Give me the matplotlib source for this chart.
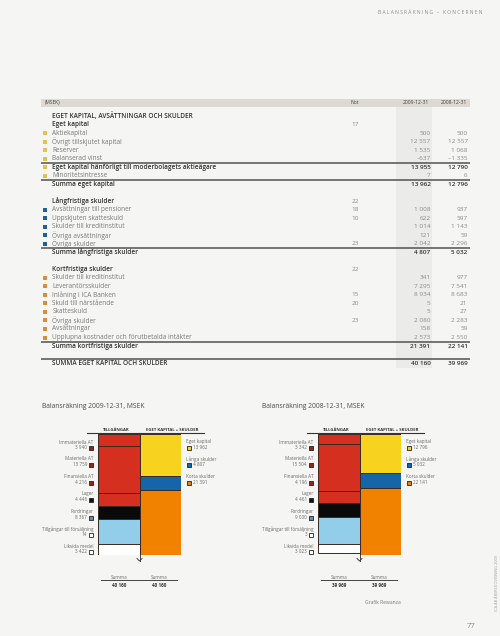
import matplotlib
matplotlib.use("Agg")
import matplotlib.pyplot as plt
from matplotlib.patches import Rectangle

plt.rcParams['font.family'] = ['Open Sans', 'DejaVu Sans']

# ---------------- DATA ----------------
row_labels = [
    "EGET KAPITAL, AVSÄTTNINGAR OCH SKULDER", "Eget kapital", "Aktiekapital",
    "Övrigt tillskjutet kapital", "Reserver", "Balanserad vinst",
    "Eget kapital hänförligt till moderbolagets aktieägare", "Minoritetsintresse",
    "Summa eget kapital", "",
    "Långfristiga skulder", "Avsättningar till pensioner", "Uppskjuten skatteskuld",
    "Skulder till kreditinstitut", "Övriga avsättningar", "Övriga skulder",
    "Summa långfristiga skulder", "",
    "Kortfristiga skulder", "Skulder till kreditinstitut", "Leverantörsskulder",
    "Inlåning i ICA Banken", "Skuld till närstående", "Skatteskuld", "Övriga skulder",
    "Avsättningar", "Upplupna kostnader och förutbetalda intäkter",
    "Summa kortfristiga skulder", "",
    "SUMMA EGET KAPITAL OCH SKULDER",
]
row_notes = ["", "17", "", "", "", "", "", "", "", "",
             "22", "18", "10", "", "", "23", "", "",
             "22", "", "", "15", "20", "", "23", "", "", "", "", ""]
row_2009 = [None, None, 500, 12557, 1535, -637, 13955, 7, 13962, None,
            None, 1008, 622, 1014, 121, 2042, 4807, None,
            None, 341, 7295, 8934, 5, 5, 2080, 158, 2573, 21391, None, 40160]
row_2008 = [None, None, 500, 12557, 1068, -1335, 12790, 6, 12796, None,
            None, 937, 597, 1143, 59, 2296, 5032, None,
            None, 977, 7541, 8683, 21, 27, 2283, 59, 2550, 22141, None, 39969]
# row kind: h=heading, b=bold subheading, i=item, bi=bold item, s=sum
row_kind = ["h", "b", "i", "i", "i", "i", "bi", "i", "s", "",
            "b", "i", "i", "i", "i", "i", "s", "",
            "b", "i", "i", "i", "i", "i", "i", "i", "i", "s", "", "h"]
row_group = ["", "", "eq", "eq", "eq", "eq", "eq", "eq", "", "",
             "", "lt", "lt", "lt", "lt", "lt", "", "",
             "", "st", "st", "st", "st", "st", "st", "st", "st", "", "", ""]

asset_labels = ["Immateriella AT", "Materiella AT", "Finansiella AT", "Lager",
                "Fordringar", "Tillgångar till försäljning", "Likvida medel"]
assets_2009 = [3940, 15759, 4216, 4446, 8367, 14, 3422]
assets_2008 = [3342, 15504, 4196, 4461, 9000, 3, 3023]
liab_labels = ["Eget kapital", "Långa skulder", "Korta skulder"]
liab_2009 = [13962, 4807, 21391]
liab_2008 = [12796, 5032, 22141]
total_2009 = 40160
total_2008 = 39969

# ---------------- STYLE ----------------
BG = "#f5f5f3"
group_col = {"eq": "#e2c24a", "lt": "#1f5f96", "st": "#de8a38"}
asset_bar_col = ["#d52f1f", "#d52f1f", "#d52f1f", "#0a0a0a", "#92cdea", "#ffffff", "#ffffff"]
asset_mark_col = ["#8a2a1c", "#8a2a1c", "#8a2a1c", "#111111", "#6d8da6", "#ffffff", "#ffffff"]
liab_bar_col = ["#f7d21e", "#1466a8", "#f08200"]
liab_mark_col = ["#f7d21e", "#1466a8", "#d9821f"]
EDGE = "#3a2a22"
FS = 4.7     # table text
FN = 4.6     # table numbers
FC = 3.3     # chart labels


def fmt(v):
    s = f"{abs(v):,}".replace(",", " ")
    return ("–" + s) if v < 0 else s


fig = plt.figure(figsize=(5.0, 6.36), dpi=100, facecolor=BG)
ax = fig.add_axes([0, 0, 1, 1])
ax.set_xlim(0, 500)
ax.set_ylim(636, 0)
ax.axis("off")
ax.set_facecolor(BG)

# page header
ax.text(483, 12, "B A L A N S R Ä K N I N G   –   K O N C E R N E N", ha="right", va="center",
        fontsize=3.5, color="#8a8a8a")

# table header band
ax.add_patch(Rectangle((41, 98.5), 429, 8.5, color="#ddd9d2", lw=0))
ax.text(45, 102.8, "(MSEK)", fontsize=3.4, color="#444", va="center")
ax.text(355, 102.8, "Not", fontsize=3.6, color="#444", va="center", ha="center")
ax.text(429, 102.8, "2009-12-31", fontsize=3.6, color="#444", va="center", ha="right")
ax.text(467, 102.8, "2008-12-31", fontsize=3.6, color="#444", va="center", ha="right")
# shaded 2009 column
ax.add_patch(Rectangle((396, 107), 36, 261, color="#ebebe9", lw=0))

y0, step = 116.0, 8.52
for i, lab in enumerate(row_labels):
    y = y0 + i * step
    k = row_kind[i]
    if not lab:
        continue
    bold = k in ("h", "b", "bi", "s")
    col = "#333333" if bold else "#7a7a7a"
    ax.text(52.5, y, lab, fontsize=FS, va="center", ha="left", color=col,
            fontweight="semibold" if bold else "normal")
    if row_group[i]:
        ax.add_patch(Rectangle((43.2, y - 2.0), 4.0, 4.0, color=group_col[row_group[i]], lw=0))
    if row_notes[i]:
        ax.text(355, y, row_notes[i], fontsize=FN, va="center", ha="center", color="#8a8a8a")
    if row_2009[i] is not None:
        vb = k in ("bi", "s", "h")
        vc = "#333333" if vb else "#8a8a8a"
        ax.text(430.5, y, fmt(row_2009[i]), fontsize=FN, va="center", ha="right", color=vc,
                fontweight="semibold" if vb else "normal")
        ax.text(467.5, y, fmt(row_2008[i]), fontsize=FN, va="center", ha="right", color=vc,
                fontweight="semibold" if vb else "normal")

for yl in (y0 + 5.5 * step, y0 + 7.5 * step, y0 + 15.5 * step, y0 + 26.5 * step, y0 + 28.5 * step):
    ax.plot([41, 470], [yl, yl], color="#5e5e5e", lw=1.2, solid_capstyle="butt")


def draw_chart(x0, title, assets, liab, total, tot_a, tot_l):
    # x0: left edge of the assets bar in pixels
    bar_w = 41.5
    top, bot = 434, 554.5
    ax.text(x0 - 56, 406, title, fontsize=4.9, color="#4a4a4a", va="center")
    ax.text(x0 + bar_w / 2 - 2, 430, "TILLGÅNGAR", fontsize=3.1, fontweight="bold",
            color="#333", ha="center", va="center")
    ax.text(x0 + bar_w * 1.5 + 12, 430, "EGET KAPITAL + SKULDER", fontsize=3.1, fontweight="bold",
            color="#333", ha="center", va="center")
    ax.plot([x0 - 11, x0 + 2 * bar_w + 23], [433, 433], color="#333", lw=0.8)

    bx = fig.add_axes([x0 / 500, 1 - bot / 636, 2 * bar_w / 500, (bot - top) / 636])
    bx.set_xlim(-0.5, 1.5)
    bx.set_ylim(total, 0)
    bx.axis("off")
    cum = 0
    for v, c in zip(assets, asset_bar_col):
        bx.bar(0, v, bottom=cum, width=1.0, color=c, edgecolor=EDGE, linewidth=0.7)
        cum += v
    cum = 0
    for v, c in zip(liab, liab_bar_col):
        bx.bar(1, v, bottom=cum, width=1.0, color=c, edgecolor=EDGE, linewidth=0.7)
        cum += v

    # left legend labels
    ly = [442, 459, 477, 494, 512, 529, 546]
    for lab, v, mc, y in zip(asset_labels, assets, asset_mark_col, ly):
        ax.text(x0 - 4.5, y, lab, fontsize=FC, color="#6a6a6a", ha="right", va="center")
        ax.text(x0 - 11, y + 5.5, fmt(v), fontsize=FC, color="#6a6a6a", ha="right", va="center")
        ax.add_patch(Rectangle((x0 - 9.5, y + 3.6), 4, 4, facecolor=mc, edgecolor="#222", lw=0.6))
    # right legend labels
    ry = [442, 459, 477]
    rx = x0 + 2 * bar_w + 5
    for lab, v, mc, y in zip(liab_labels, liab, liab_mark_col, ry):
        ax.text(rx, y, lab, fontsize=FC, color="#6a6a6a", ha="left", va="center")
        ax.add_patch(Rectangle((rx + 0.5, y + 3.6), 4, 4, facecolor=mc, edgecolor="#222", lw=0.6))
        ax.text(rx + 7, y + 5.5, fmt(v), fontsize=FC, color="#6a6a6a", ha="left", va="center")

    # arrow
    ax.plot([x0 + bar_w, x0 + bar_w], [554, 561], color="#444", lw=0.7)
    ax.plot([x0 + bar_w - 2.5, x0 + bar_w, x0 + bar_w + 2.5], [558.5, 561, 558.5], color="#444", lw=0.7)
    # summa
    ax.plot([x0 + 3, x0 + 2 * bar_w - 4], [580, 580], color="#444", lw=0.7)
    for cx, tv in ((x0 + 21, tot_a), (x0 + 61, tot_l)):
        ax.text(cx, 577.3, "Summa", fontsize=FC, color="#6a6a6a", ha="center", va="center")
        ax.text(cx, 585.5, fmt(tv), fontsize=FC, color="#333", ha="center", va="center",
                fontweight="bold")


draw_chart(98, "Balansräkning 2009-12-31, MSEK", assets_2009, liab_2009, total_2009, total_2009, total_2009)
draw_chart(318, "Balansräkning 2008-12-31, MSEK", assets_2008, liab_2008, total_2008, total_2008, total_2008)

ax.text(365, 602.5, "Grafik Rewanza", fontsize=3.6, color="#7a7a7a", va="center")
ax.text(467, 627, "77", fontsize=5.5, color="#8a8a8a", va="center")
ax.text(497, 583, "ICA AB ÅRSREDOVISNING 2009", fontsize=2.8, color="#a0a0a0", rotation=90,
        ha="center", va="center")

fig.savefig("out.png", dpi=100, facecolor=BG)
